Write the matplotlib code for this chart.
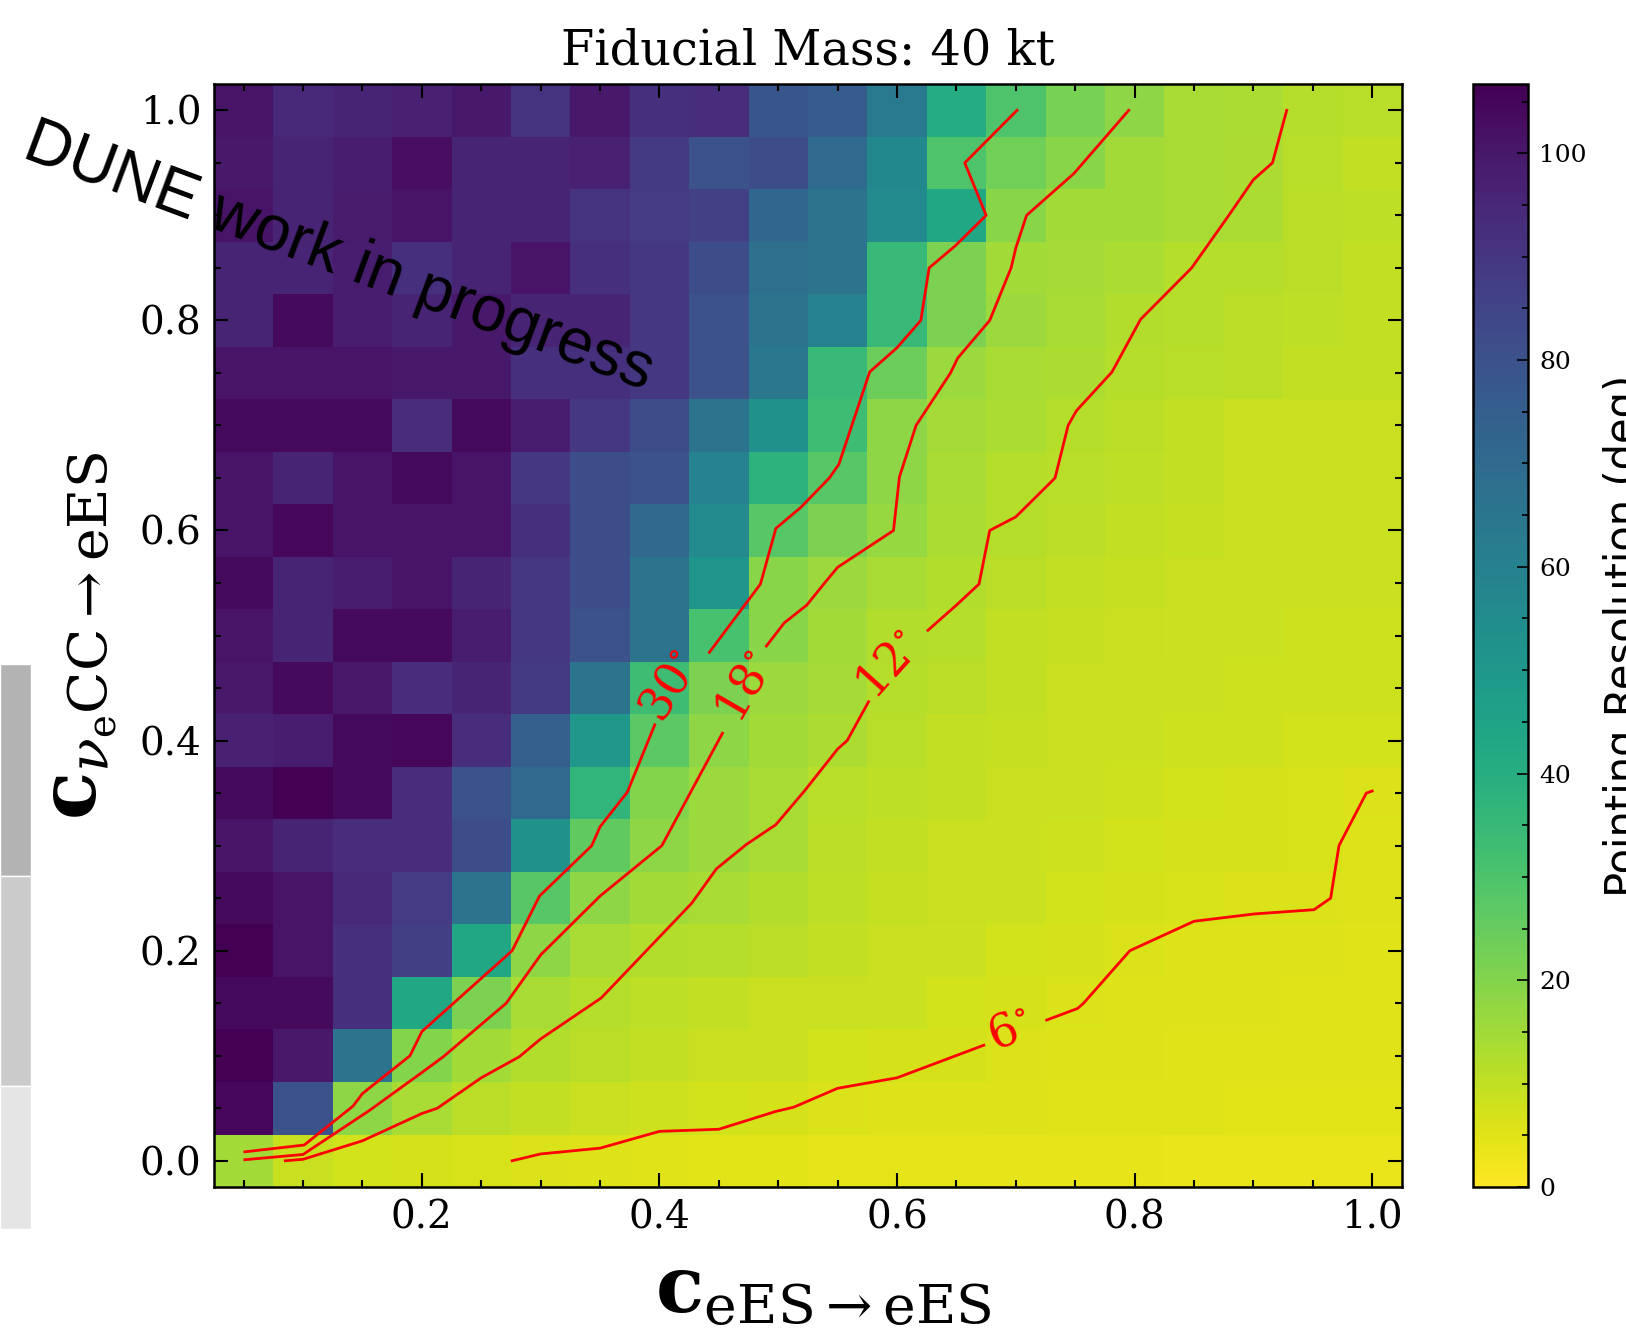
import numpy as np
import matplotlib
matplotlib.use("Agg")
import matplotlib.pyplot as plt
from matplotlib.patches import Rectangle
from matplotlib.ticker import MultipleLocator

plt.rcParams["font.family"] = "DejaVu Serif"
plt.rcParams["mathtext.fontset"] = "dejavuserif"

nan = np.nan

# -----------------------------
# Data
# -----------------------------

# bin centres of the two coefficients
c_ees = [0.05, 0.10, 0.15, 0.20, 0.25, 0.30, 0.35, 0.40, 0.45, 0.50,
         0.55, 0.60, 0.65, 0.70, 0.75, 0.80, 0.85, 0.90, 0.95, 1.00]
c_nuecc = [1.00, 0.95, 0.90, 0.85, 0.80, 0.75, 0.70, 0.65, 0.60, 0.55, 0.50,
           0.45, 0.40, 0.35, 0.30, 0.25, 0.20, 0.15, 0.10, 0.05, 0.00]

# pointing resolution (deg), one row per c_nuecc value (top row first)
resolution = [
    [101, 95, 96, 97, 100, 91, 100, 92, 93, 78, 76, 63, 41, 30, 22, 18, 14, 13.5, 11.8, 11.5],
    [100, 96, 98, 103, 96, 96, 97, 89, 80, 82, 70, 57, 30, 23, 19, 15, 14, 13, 11.5, 10],
    [101, 96, 99, 101, 96, 96, 91, 88, 86, 72, 66, 56, 43, 19, 15, 15, 14, 13.5, 11, 10.5],
    [96, 96, 98, 92, 96, 101, 92, 90, 82, 68, 66, 35, 21, 15, 14.5, 13.5, 12, 12, 11, 10],
    [96, 104, 98, 96, 100, 96, 96, 90, 80, 66, 60, 35, 21, 16, 14, 12.5, 12, 11, 10.5, 10],
    [101, 101, 101, 100, 100, 92, 92, 90, 80, 64, 35, 24, 16, 14, 13, 12, 11.5, 11, 10, 10],
    [104, 104, 104, 93, 104, 98, 90, 82, 66, 53, 33, 18, 14.5, 13.5, 12, 11, 10, 9, 9, 9],
    [101, 96, 101, 104, 101, 90, 82, 80, 60, 38, 28, 18, 14, 12, 11.5, 10.5, 10, 9, 9, 9],
    [101, 105, 101, 101, 101, 92, 82, 71, 56, 28, 21, 17, 13.5, 12, 11, 10, 9.5, 9, 8.5, 8.5],
    [104, 96, 98, 101, 96, 90, 82, 66, 51, 19, 16, 14, 12.5, 11, 10, 9.5, 9, 8.5, 8.5, 8.5],
    [101, 96, 104, 104, 98, 90, 80, 66, 31, 19, 15, 12.5, 12, 10, 9.5, 9, 8.5, 8.5, 8, 8],
    [100, 104, 100, 93, 96, 89, 66, 33, 21, 16, 14.5, 12, 11, 10, 9, 8.5, 8.5, 8, 8, 8],
    [97, 98, 104, 105, 93, 75, 50, 27, 18, 15, 13, 11.5, 10, 9.5, 9, 8.5, 8, 8, 7.5, 7.5],
    [104, 106.7, 104, 93, 80, 70, 37, 20, 16, 14, 11.5, 10.5, 10, 9, 8.5, 8, 7.5, 7, 6.5, 6],
    [101, 96, 93, 93, 82, 53, 26, 18, 16, 14, 11, 10, 9, 8.5, 8, 7.5, 7, 6.8, 6.5, 5.8],
    [104, 101, 95, 88, 66, 28, 18, 15, 14, 12.5, 10.5, 9.5, 9, 8.5, 7.5, 7, 6.5, 6.2, 6.1, 5.5],
    [106.7, 101, 92, 87, 43, 18, 14, 12.5, 12, 11, 10, 9, 8.5, 7.5, 7, 6, 5.8, 5.7, 5.6, 5.4],
    [104, 104, 92, 43, 21, 14, 12, 10.7, 10, 9, 9, 8.5, 7.5, 7, 6.2, 5.8, 5.6, 5.5, 5.4, 5.3],
    [106.7, 100, 66, 20, 15, 12.5, 11, 10, 9, 9, 7.5, 7, 6.8, 6.2, 5.8, 5.6, 5.4, 5.3, 5.2, 5.1],
    [105, 80, 18, 14, 11, 10, 9, 8, 7.5, 7, 6, 5.8, 5.6, 5.5, 5.3, 5.2, 5.1, 5, 5, 4.9],
    [15, 9, 7.5, 7, 6.5, 6, 5.5, 5.2, 5, 4.7, 4.5, 4.3, 4.2, 4, 3.9, 3.8, 3.7, 3.6, 3.5, 3.4],
]

# contour lines (NaN = gap left for the inline label)
c30_x = [0.701, 0.657, 0.675, 0.649, 0.627, 0.620, 0.600, 0.577, 0.551, 0.543, 0.519,
         0.498, 0.485, 0.442, nan, 0.396, 0.373, 0.350, 0.343, 0.299, 0.276, 0.200,
         0.190, 0.150, 0.142, 0.101, 0.051]
c30_y = [1.0, 0.95, 0.90, 0.871, 0.85, 0.80, 0.774, 0.751, 0.663, 0.650, 0.622,
         0.602, 0.549, 0.484, nan, 0.415, 0.351, 0.318, 0.300, 0.252, 0.200, 0.123,
         0.100, 0.064, 0.052, 0.015, 0.0085]

c18_x = [0.795, 0.749, 0.709, 0.700, 0.696, 0.678, 0.651, 0.645, 0.616, 0.602, 0.597,
         0.550, 0.539, 0.524, 0.505, 0.490, nan, 0.453, 0.402, 0.350, 0.300, 0.271,
         0.218, 0.200, 0.156, 0.100, 0.051]
c18_y = [1.0, 0.94, 0.90, 0.869, 0.85, 0.80, 0.764, 0.75, 0.70, 0.651, 0.60,
         0.565, 0.55, 0.529, 0.512, 0.490, nan, 0.407, 0.300, 0.252, 0.196, 0.150,
         0.099, 0.084, 0.048, 0.006, 0.001]

c12_x = [0.928, 0.916, 0.900, 0.878, 0.848, 0.805, 0.781, 0.751, 0.744, 0.733, 0.700,
         0.678, 0.669, 0.650, 0.626, nan, 0.576, 0.558, 0.550, 0.522, 0.498, 0.473,
         0.448, 0.427, 0.351, 0.300, 0.282, 0.250, 0.213, 0.200, 0.150, 0.100, 0.085]
c12_y = [1.0, 0.95, 0.934, 0.898, 0.85, 0.801, 0.751, 0.714, 0.70, 0.65, 0.613,
         0.60, 0.549, 0.529, 0.505, nan, 0.437, 0.40, 0.392, 0.352, 0.32, 0.301,
         0.278, 0.245, 0.155, 0.116, 0.099, 0.079, 0.05, 0.045, 0.019, 0.0014, 0.0]

c6_x = [0.276, 0.300, 0.350, 0.400, 0.450, 0.498, 0.513, 0.550, 0.600, 0.673, nan,
        0.726, 0.752, 0.757, 0.796, 0.850, 0.901, 0.951, 0.965, 0.972, 0.995, 1.000]
c6_y = [0.0, 0.0065, 0.012, 0.028, 0.030, 0.047, 0.051, 0.069, 0.079, 0.110, nan,
        0.134, 0.145, 0.150, 0.200, 0.228, 0.235, 0.239, 0.250, 0.300, 0.350, 0.352]

contour_levels = [30, 18, 12, 6]
label_pos = [(0.409, 0.451), (0.473, 0.450), (0.594, 0.471), (0.695, 0.124)]
label_rot = [58, 60, 48, 21]

# -----------------------------
# Figure
# -----------------------------

fig = plt.figure(figsize=(16.26, 13.30), dpi=100)
ax = fig.add_axes([0.1316, 0.1075, 0.7306, 0.8293])
cax = fig.add_axes([0.9059, 0.1075, 0.0338, 0.8293])

z = np.array(resolution)
mesh = ax.pcolormesh(c_ees, c_nuecc, z, cmap="viridis_r", vmin=0, vmax=z.max(),
                     shading="nearest")

paths = [(c30_x, c30_y), (c18_x, c18_y), (c12_x, c12_y), (c6_x, c6_y)]
for (px, py), lev, pos, rot in zip(paths, contour_levels, label_pos, label_rot):
    ax.plot(px, py, color="red", lw=2)
    ax.text(pos[0], pos[1], f"{lev}$^{{\\circ}}$", color="red", fontsize=33,
            rotation=rot, ha="center", va="center")

ax.set_xlim(0.025, 1.025)
ax.set_ylim(-0.025, 1.025)
ax.xaxis.set_major_locator(MultipleLocator(0.2))
ax.yaxis.set_major_locator(MultipleLocator(0.2))
ax.xaxis.set_minor_locator(MultipleLocator(0.05))
ax.yaxis.set_minor_locator(MultipleLocator(0.05))
ax.tick_params(which="both", direction="in", top=True, right=True, width=1.5)
ax.tick_params(which="major", length=10, labelsize=28, pad=9)
ax.tick_params(which="minor", length=5)
for sp in ax.spines.values():
    sp.set_linewidth(1.8)

ax.set_title("Fiducial Mass: 40 kt", fontsize=34.5, pad=14)
ax.set_xlabel(r"$\mathbf{c}_{\mathrm{eES}\rightarrow\mathrm{eES}}$", fontsize=57, labelpad=12)
ax.xaxis.label.set_x(0.513)
ax.set_ylabel(r"$\mathbf{c}_{\nu_{\mathrm{e}}\mathrm{CC}\rightarrow\mathrm{eES}}$",
              fontsize=57, labelpad=14)

ax.text(0.130, 0.860, "DUNE work in progress", family="Liberation Sans", fontsize=46,
        rotation=-20.5, ha="center", va="center", clip_on=False)

cb = fig.colorbar(mesh, cax=cax)
cb.set_ticks([0, 20, 40, 60, 80, 100])
cb.ax.yaxis.set_minor_locator(MultipleLocator(5))
cb.ax.tick_params(which="both", direction="in", right=True, left=False, width=1.2)
cb.ax.tick_params(which="major", length=8, labelsize=18, pad=8)
cb.ax.tick_params(which="minor", length=4)
cb.outline.set_linewidth(1.8)
cb.set_label("Pointing Resolution (deg)", family="DejaVu Sans", fontsize=30, labelpad=12)

# grey strips of a neighbouring panel at the left edge
for y0, h, g in [(0.3414, 0.1594, "#b3b3b3"), (0.1835, 0.1579, "#cbcbcb"),
                 (0.0759, 0.1076, "#e5e5e5")]:
    fig.patches.append(Rectangle((0, y0), 0.0191, h, transform=fig.transFigure,
                                 facecolor=g, edgecolor="white", lw=1))

fig.savefig("out.png", dpi=100)
